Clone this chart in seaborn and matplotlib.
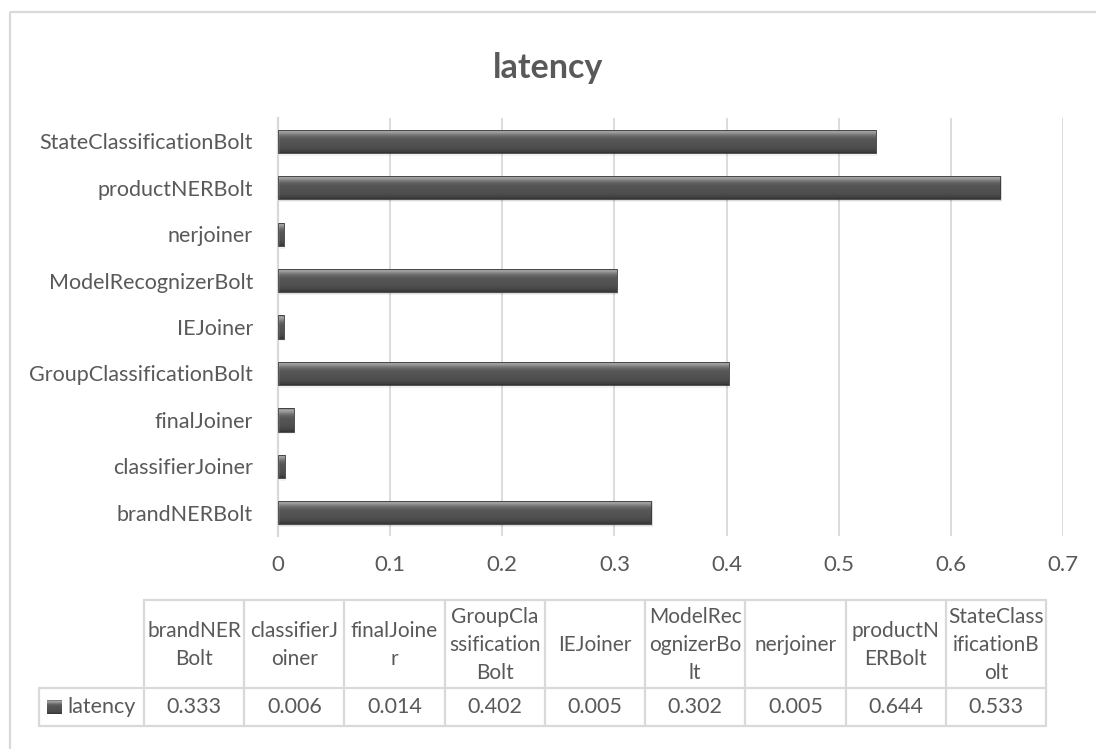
import numpy as np
import pandas as pd
import matplotlib
matplotlib.use("Agg")
import matplotlib.pyplot as plt
import seaborn as sns
from matplotlib.colors import to_rgb

# ---- data -------------------------------------------------------------
components = ["brandNERBolt", "classifierJoiner", "finalJoiner",
              "GroupClassificationBolt", "IEJoiner", "ModelRecognizerBolt",
              "nerjoiner", "productNERBolt", "StateClassificationBolt"]
latency = [0.333, 0.006, 0.014, 0.402, 0.005, 0.302, 0.005, 0.644, 0.533]
header_labels = ["brandNER\nBolt", "classifierJ\noiner", "finalJoine\nr",
                 "GroupCla\nssification\nBolt", "IEJoiner",
                 "ModelRec\nognizerBo\nlt", "nerjoiner", "productN\nERBolt",
                 "StateClass\nificationB\nolt"]
x_ticks = [0, 0.1, 0.2, 0.3, 0.4, 0.5, 0.6, 0.7]
x_tick_labels = ["0", "0.1", "0.2", "0.3", "0.4", "0.5", "0.6", "0.7"]
series_name = "latency"

# ---- style ------------------------------------------------------------
sns.set_theme(style="white")
plt.rcParams["font.family"] = ["Lato", "DejaVu Sans"]
TEXT = "#595959"
GRID = "#d9d9d9"

W, H = 1096, 749
fig = plt.figure(figsize=(W / 100, H / 100), dpi=100)
fig.patch.set_facecolor("white")


def fx(px):
    return px / W


def fy(py):
    return 1 - py / H


# ---- bar chart ----------------------------------------------------------
ax = fig.add_axes([fx(278), fy(536), fx(1063) - fx(278), fy(118) - fy(536)])
df = pd.DataFrame({"component": components, "latency": latency})
sns.barplot(data=df, x="latency", y="component", order=components[::-1],
            color="#4d4d4d", saturation=1, width=0.5, ax=ax)

ax.set_xlim(0, 0.7)
ylim = ax.get_ylim()
ax.set_xticks(x_ticks)
ax.set_xticklabels(x_tick_labels)
ax.set_xlabel("")
ax.set_ylabel("")
ax.tick_params(axis="x", length=0, pad=14, labelsize=16, labelcolor=TEXT)
ax.tick_params(axis="y", length=0, pad=18, labelsize=15.5, labelcolor=TEXT)
ax.grid(axis="x", color=GRID, lw=1.3)
ax.grid(axis="y", visible=False)
ax.set_axisbelow(True)
for s in ["top", "right", "bottom"]:
    ax.spines[s].set_visible(False)
ax.spines["left"].set_color(GRID)
ax.spines["left"].set_linewidth(1.6)

# vertical shading for the bevelled bar look
profile = ["#6e6e6e", "#9c9c9c", "#a3a3a3", "#969696", "#858585", "#767676",
           "#6a6a6a", "#616161", "#5b5b5b", "#575757", "#555555", "#545454",
           "#535353", "#525252", "#515151", "#505050", "#4e4e4e", "#4c4c4c",
           "#494949", "#454545", "#3f3f3f", "#363636"]
grad = np.array([to_rgb(c) for c in profile])[:, None, :]

for bar in list(ax.patches):
    x0, y0 = bar.get_x(), bar.get_y()
    w, h = bar.get_width(), bar.get_height()
    # soft drop shadow just under the bar
    for k, a in [(1.06, 0.10), (1.12, 0.05)]:
        ax.add_patch(plt.Rectangle((x0, y0), w + 0.0015, h * k,
                                   facecolor="black", alpha=a, lw=0,
                                   zorder=1.5))
    im = ax.imshow(grad, extent=(x0, x0 + w, y0 + h, y0), origin="upper",
                   aspect="auto", interpolation="bilinear", zorder=2.5)
    im.set_clip_path(bar)
    bar.set_facecolor("none")
    bar.set_edgecolor("#3a3a3a")
    bar.set_linewidth(0.6)
    bar.set_zorder(3)

ax.set_xlim(0, 0.7)
ax.set_ylim(ylim)

# ---- title --------------------------------------------------------------
fig.text(0.5, fy(68), series_name, ha="center", va="center",
         fontsize=24.5, fontweight="bold", color=TEXT)

# ---- outer chart frame and data table -------------------------------------
tab = fig.add_axes([0, 0, 1, 1], zorder=5)
tab.set_xlim(0, W)
tab.set_ylim(H, 0)
tab.axis("off")
tab.patch.set_alpha(0)

# chart area border
tab.plot([10, 10], [12, H + 5], color=GRID, lw=1.6, solid_capstyle="butt")
tab.plot([10, W + 5], [12, 12], color=GRID, lw=1.6, solid_capstyle="butt")

left_edge, key_right, right_edge = 39, 144, 1046
top_y, mid_y, bot_y = 600, 688, 726
ncol = len(components)
col_w = (right_edge - key_right) / ncol
col_edges = [key_right + i * col_w for i in range(ncol + 1)]

tab.plot([key_right, right_edge], [top_y, top_y], color=GRID, lw=1.6)
tab.plot([left_edge, right_edge], [mid_y, mid_y], color=GRID, lw=1.6)
tab.plot([left_edge, right_edge], [bot_y, bot_y], color=GRID, lw=1.6)
tab.plot([left_edge, left_edge], [mid_y, bot_y], color=GRID, lw=1.6)
for xe in col_edges:
    tab.plot([xe, xe], [top_y, bot_y], color=GRID, lw=1.6)

for i, (lab, val) in enumerate(zip(header_labels, latency)):
    cx = (col_edges[i] + col_edges[i + 1]) / 2
    tab.text(cx, (top_y + mid_y) / 2 + 1, lab, ha="center", va="center",
             fontsize=15, color=TEXT, linespacing=1.5)
    tab.text(cx, (mid_y + bot_y) / 2, f"{val:.3f}", ha="center", va="center",
             fontsize=15.5, color=TEXT)

# legend key in the row header
tab.imshow(grad, extent=(47, 62, 714, 700), origin="upper",
           aspect="auto", interpolation="bilinear", zorder=6)
tab.set_xlim(0, W)
tab.set_ylim(H, 0)
tab.text(67, (mid_y + bot_y) / 2, series_name, ha="left", va="center",
         fontsize=15.5, color=TEXT)

fig.savefig("out.png", dpi=100)
